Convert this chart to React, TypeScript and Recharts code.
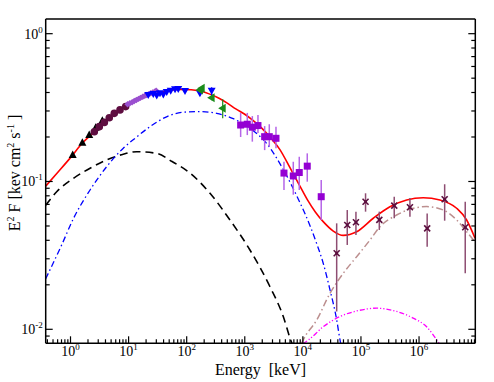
import React from 'react';
import { ComposedChart, Line, Scatter, XAxis, YAxis, ErrorBar } from 'recharts';

const SERIF = '"Liberation Serif", "DejaVu Serif", serif';
const serifStyle = { fontFamily: SERIF };

// axis ranges (keV, keV cm^-2 s^-1)
const X_DOMAIN = [0.374, 9.3e6];
const Y_DOMAIN = [0.00804, 1.257];
const xDecades = [0.1, 1, 10, 100, 1e3, 1e4, 1e5, 1e6];
const yDecades = [0.001, 0.01, 0.1, 1];

// model curves
const totalModel = [
  { e: 0.374, f: 0.093 }, { e: 0.6, f: 0.115 }, { e: 1.0, f: 0.145 }, { e: 1.6, f: 0.182 },
  { e: 2.57, f: 0.217 }, { e: 4.65, f: 0.27 }, { e: 8.9, f: 0.321 }, { e: 15, f: 0.36 },
  { e: 25, f: 0.39 }, { e: 45, f: 0.41 }, { e: 75, f: 0.42 }, { e: 120, f: 0.418 },
  { e: 170, f: 0.409 }, { e: 250, f: 0.39 }, { e: 360, f: 0.366 }, { e: 500, f: 0.339 },
  { e: 700, f: 0.31 }, { e: 1000, f: 0.285 }, { e: 1400, f: 0.258 }, { e: 2000, f: 0.228 },
  { e: 2800, f: 0.197 }, { e: 4000, f: 0.165 }, { e: 6000, f: 0.124 }, { e: 8900, f: 0.093 },
  { e: 12000, f: 0.075 }, { e: 16500, f: 0.062 }, { e: 22400, f: 0.0535 }, { e: 33400, f: 0.0462 },
  { e: 49500, f: 0.0432 }, { e: 84300, f: 0.0457 }, { e: 163000, f: 0.0564 }, { e: 315000, f: 0.0675 },
  { e: 612000, f: 0.075 }, { e: 1.18e6, f: 0.0777 }, { e: 2.29e6, f: 0.075 }, { e: 4.44e6, f: 0.0659 },
  { e: 6.6e6, f: 0.0549 }, { e: 9.2e6, f: 0.0413 },
];

const diskModel = [
  { e: 0.374, f: 0.069 }, { e: 0.578, f: 0.0853 }, { e: 1.12, f: 0.105 }, { e: 2.17, f: 0.123 },
  { e: 4.2, f: 0.14 }, { e: 8.1, f: 0.153 }, { e: 13.8, f: 0.159 }, { e: 30.5, f: 0.155 },
  { e: 55, f: 0.137 }, { e: 114, f: 0.114 }, { e: 252, f: 0.0832 }, { e: 556, f: 0.0549 },
  { e: 1228, f: 0.0344 }, { e: 2715, f: 0.0194 }, { e: 4600, f: 0.0122 }, { e: 6170, f: 0.00847 },
  { e: 7000, f: 0.0075 },
];

const comptModel = [
  { e: 0.374, f: 0.022 }, { e: 0.7, f: 0.037 }, { e: 1.12, f: 0.056 }, { e: 2.17, f: 0.0876 },
  { e: 4.2, f: 0.126 }, { e: 8.1, f: 0.168 }, { e: 12.9, f: 0.196 }, { e: 23.4, f: 0.235 },
  { e: 45, f: 0.274 }, { e: 93.5, f: 0.295 }, { e: 169, f: 0.297 }, { e: 328, f: 0.289 },
  { e: 634, f: 0.266 }, { e: 1230, f: 0.229 }, { e: 2380, f: 0.181 }, { e: 4630, f: 0.12 },
  { e: 8900, f: 0.072 }, { e: 10800, f: 0.061 }, { e: 17300, f: 0.038 }, { e: 22400, f: 0.028 },
  { e: 29300, f: 0.0185 }, { e: 38200, f: 0.0116 }, { e: 43500, f: 0.0085 }, { e: 48000, f: 0.007 },
];

const jetModel = [
  { e: 9500, f: 0.008 }, { e: 10200, f: 0.0085 }, { e: 17300, f: 0.01155 }, { e: 29300, f: 0.0175 },
  { e: 49500, f: 0.0239 }, { e: 84300, f: 0.031 }, { e: 143000, f: 0.0402 }, { e: 212000, f: 0.0494 },
  { e: 411000, f: 0.0593 }, { e: 795000, f: 0.0659 }, { e: 1.35e6, f: 0.0676 }, { e: 2.61e6, f: 0.0641 },
  { e: 4.44e6, f: 0.0549 }, { e: 6.6e6, f: 0.0457 }, { e: 9.2e6, f: 0.0391 },
];

const pairModel = [
  { e: 10000, f: 0.008 }, { e: 12400, f: 0.00845 }, { e: 22400, f: 0.0104 }, { e: 43500, f: 0.0122 },
  { e: 84300, f: 0.0133 }, { e: 186000, f: 0.0139 }, { e: 411000, f: 0.0132 }, { e: 795000, f: 0.0119 },
  { e: 1.35e6, f: 0.0104 }, { e: 2.14e6, f: 0.0082 }, { e: 2.4e6, f: 0.0077 },
];

// data points
const blackTri = [
  { e: 1.09, f: 0.151 }, { e: 1.6, f: 0.183 }, { e: 2.1, f: 0.206 }, { e: 2.71, f: 0.231 }, { e: 3.53, f: 0.258 },
];

const maroonDots = [
  { e: 2.57, f: 0.217 }, { e: 3.13, f: 0.235 }, { e: 3.82, f: 0.251 }, { e: 4.65, f: 0.27 },
  { e: 5.67, f: 0.289 }, { e: 7.11, f: 0.305 }, { e: 8.9, f: 0.321 },
];

const violetPts = [
  { e: 9.6, f: 0.333 }, { e: 10.5, f: 0.338 }, { e: 11.5, f: 0.344 }, { e: 12.5, f: 0.35 },
  { e: 13.6, f: 0.356 }, { e: 14.8, f: 0.362 }, { e: 16, f: 0.368 }, { e: 17.5, f: 0.374 },
  { e: 19, f: 0.38 }, { e: 20.5, f: 0.385 }, { e: 22, f: 0.39 }, { e: 24, f: 0.395 },
  { e: 26, f: 0.4 }, { e: 28, f: 0.405 }, { e: 29.8, f: 0.412 },
];

const blueTri = [
  { e: 21.8, f: 0.385, lo: 0.38, hi: 0.39 }, { e: 26.6, f: 0.391, lo: 0.386, hi: 0.396 },
  { e: 30.5, f: 0.381, lo: 0.376, hi: 0.386 }, { e: 34.7, f: 0.395, lo: 0.39, hi: 0.4 },
  { e: 39.6, f: 0.387, lo: 0.382, hi: 0.392 }, { e: 45.3, f: 0.403, lo: 0.398, hi: 0.408 },
  { e: 53, f: 0.411, lo: 0.406, hi: 0.416 }, { e: 63, f: 0.42, lo: 0.415, hi: 0.425 },
  { e: 71.6, f: 0.423, lo: 0.418, hi: 0.428 }, { e: 93.5, f: 0.41, lo: 0.404, hi: 0.416 },
  { e: 169, f: 0.395, lo: 0.38, hi: 0.41 }, { e: 269, f: 0.411, lo: 0.356, hi: 0.434 },
];

const greenTri = [
  { e: 169, f: 0.416, lo: 0.405, hi: 0.427 }, { e: 181, f: 0.427, lo: 0.415, hi: 0.44 },
  { e: 269, f: 0.369, lo: 0.355, hi: 0.38 }, { e: 417, f: 0.313, lo: 0.268, hi: 0.36 },
];

const squares = [
  { e: 849, f: 0.241, lo: 0.2, hi: 0.291 }, { e: 1105, f: 0.244, lo: 0.206, hi: 0.291 },
  { e: 1349, f: 0.233, lo: 0.186, hi: 0.277 }, { e: 1687, f: 0.239, lo: 0.213, hi: 0.282 },
  { e: 2198, f: 0.201, lo: 0.163, hi: 0.237 }, { e: 2642, f: 0.201, lo: 0.172, hi: 0.244 },
  { e: 3445, f: 0.196, lo: 0.168, hi: 0.235 }, { e: 4730, f: 0.114, lo: 0.0876, hi: 0.136 },
  { e: 6840, f: 0.109, lo: 0.0814, hi: 0.136 }, { e: 8670, f: 0.115, lo: 0.0876, hi: 0.147 },
  { e: 11900, f: 0.127, lo: 0.0997, hi: 0.155 }, { e: 20700, f: 0.0789, lo: 0.0549, hi: 0.1024 },
];

const crosses = [
  { e: 38200, f: 0.0327, lo: 0.0132, hi: 0.0521 }, { e: 58100, f: 0.0508, lo: 0.0372, hi: 0.0641 },
  { e: 82000, f: 0.053, lo: 0.0435, hi: 0.0625 }, { e: 120000, f: 0.073, lo: 0.0625, hi: 0.0832 },
  { e: 207000, f: 0.055, lo: 0.047, hi: 0.0625 }, { e: 374000, f: 0.0686, lo: 0.0563, hi: 0.0789 },
  { e: 697000, f: 0.0669, lo: 0.0577, hi: 0.0774 }, { e: 1.38e6, f: 0.0482, lo: 0.0362, hi: 0.0607 },
  { e: 2.76e6, f: 0.0758, lo: 0.0543, hi: 0.0958 }, { e: 6.24e6, f: 0.049, lo: 0.0239, hi: 0.073 },
];

const withErr = (rows: { e: number; f: number; lo: number; hi: number }[]) =>
  rows.map((r) => ({ e: r.e, f: r.f, err: [r.f - r.lo, r.hi - r.f] }));

// ticks: decades plus 2..9 minors inside the domain
const inside = (v: number, d: number[]) => v >= d[0] && v <= d[1];
const withMinors = (decades: number[], d: number[]) => {
  const out: number[] = [];
  decades.forEach((p) => {
    for (let m = 1; m <= 9; m++) {
      const v = parseFloat((m * p).toPrecision(6));
      if (inside(v, d)) out.push(v);
    }
  });
  return out;
};
const xTicks = withMinors(xDecades, X_DOMAIN);
const yTicks = withMinors(yDecades, Y_DOMAIN);

const expOf = (v: number) => Math.round(Math.log10(v));
const isMajor = (v: number) => Math.abs(Math.log10(v) - expOf(v)) < 1e-6;

const MAJ = 7;
const MIN = 4;

const Pow = ({ v }: { v: number }) => (
  <>
    10<tspan dy={-6} fontSize={9}>{expOf(v)}</tspan>
  </>
);

const BottomTick = (p: any) => {
  const major = isMajor(p.payload.value);
  return (
    <g>
      <line x1={p.x} y1={p.y} x2={p.x} y2={p.y - (major ? MAJ : MIN)} stroke="#000" strokeWidth={1.2} />
      {major && (
        <text x={p.x} y={p.y + 13} textAnchor="middle" style={serifStyle} fontSize={14} fill="#000">
          <Pow v={p.payload.value} />
        </text>
      )}
    </g>
  );
};

const TopTick = (p: any) => {
  const major = isMajor(p.payload.value);
  return <line x1={p.x} y1={p.y} x2={p.x} y2={p.y + (major ? MAJ : MIN)} stroke="#000" strokeWidth={1.2} />;
};

const LeftTick = (p: any) => {
  const major = isMajor(p.payload.value);
  return (
    <g>
      <line x1={p.x} y1={p.y} x2={p.x + (major ? MAJ : MIN)} y2={p.y} stroke="#000" strokeWidth={1.2} />
      {major && (
        <text x={p.x - 3} y={p.y + 5} textAnchor="end" style={serifStyle} fontSize={14} fill="#000">
          <Pow v={p.payload.value} />
        </text>
      )}
    </g>
  );
};

const RightTick = (p: any) => {
  const major = isMajor(p.payload.value);
  return <line x1={p.x} y1={p.y} x2={p.x - (major ? MAJ : MIN)} y2={p.y} stroke="#000" strokeWidth={1.2} />;
};

const XLabel = () => (
  <text x={260.5} y={375} textAnchor="middle" style={serifStyle} fontSize={16} fill="#000">
    {'Energy\u00a0\u00a0[keV]'}
  </text>
);

const YLabel = () => (
  <text x={20} y={173} transform="rotate(-90 20 173)" textAnchor="middle" style={serifStyle} fontSize={16} fill="#000">
    E<tspan dy={-6} fontSize={10}>2</tspan>
    <tspan dy={6}>{'\u00a0F [kev cm'}</tspan>
    <tspan dy={-6} fontSize={10}>2</tspan>
    <tspan dy={6}>{'\u00a0s'}</tspan>
    <tspan dy={-6} fontSize={10}>-1</tspan>
    <tspan dy={6}>{'\u00a0]'}</tspan>
  </text>
);

// marker shapes
const UpTri = ({ cx, cy }: any) => (
  <polygon points={`${cx},${cy - 4.5} ${cx - 4},${cy + 3} ${cx + 4},${cy + 3}`} fill="#000" />
);
const DownTri = ({ cx, cy }: any) => (
  <polygon points={`${cx},${cy + 4} ${cx - 4},${cy - 3} ${cx + 4},${cy - 3}`} fill="#0000ff" />
);
const LeftTri = ({ cx, cy }: any) => (
  <polygon points={`${cx - 4.5},${cy} ${cx + 3},${cy - 4.5} ${cx + 3},${cy + 4.5}`} fill="#1a8c1a" />
);
const Dot = ({ cx, cy }: any) => <circle cx={cx} cy={cy} r={3.8} fill="#5e0d40" />;
const Diamond = ({ cx, cy }: any) => (
  <polygon points={`${cx},${cy - 3.2} ${cx + 3.2},${cy} ${cx},${cy + 3.2} ${cx - 3.2},${cy}`} fill="#9a4fcf" />
);
const Square = ({ cx, cy }: any) => <rect x={cx - 3.5} y={cy - 3.5} width={7} height={7} fill="#9400d3" />;
const Cross = ({ cx, cy }: any) => (
  <g stroke="#5c0f3f" strokeWidth={1.6}>
    <line x1={cx - 3} y1={cy - 3} x2={cx + 3} y2={cy + 3} />
    <line x1={cx - 3} y1={cy + 3} x2={cx + 3} y2={cy - 3} />
    <circle cx={cx} cy={cy} r={1.4} fill="#5c0f3f" stroke="none" />
  </g>
);

const axisStroke = { stroke: '#000', strokeWidth: 1.5 };

export default function App() {
  return (
    <div style={{ position: 'absolute', left: 0, top: 0, background: '#fff', fontFamily: SERIF }}>
      <ComposedChart width={494} height={382} margin={{ top: 19, right: 18.7, bottom: 0, left: 0 }}>
        <XAxis
          xAxisId="x"
          dataKey="e"
          type="number"
          scale="log"
          domain={X_DOMAIN}
          allowDataOverflow
          ticks={xTicks}
          interval={0}
          height={38.7}
          tickSize={0}
          tickMargin={0}
          tickLine={false}
          axisLine={axisStroke}
          tick={<BottomTick />}
          label={<XLabel />}
        />
        <XAxis
          xAxisId="xt"
          orientation="top"
          mirror
          type="number"
          scale="log"
          domain={X_DOMAIN}
          allowDataOverflow
          ticks={xTicks}
          interval={0}
          tickSize={0}
          tickMargin={0}
          tickLine={false}
          axisLine={axisStroke}
          tick={<TopTick />}
        />
        <YAxis
          yAxisId="y"
          dataKey="f"
          type="number"
          scale="log"
          domain={Y_DOMAIN}
          allowDataOverflow
          ticks={yTicks}
          interval={0}
          width={45.7}
          tickSize={0}
          tickMargin={0}
          tickLine={false}
          axisLine={axisStroke}
          tick={<LeftTick />}
          label={<YLabel />}
        />
        <YAxis
          yAxisId="yr"
          orientation="right"
          mirror
          type="number"
          scale="log"
          domain={Y_DOMAIN}
          allowDataOverflow
          ticks={yTicks}
          interval={0}
          tickSize={0}
          tickMargin={0}
          tickLine={false}
          axisLine={axisStroke}
          tick={<RightTick />}
        />

        <Line xAxisId="x" yAxisId="y" data={diskModel} dataKey="f" type="monotone" stroke="#000" strokeWidth={1.6} strokeDasharray="8 5" dot={false} isAnimationActive={false} />
        <Line xAxisId="x" yAxisId="y" data={comptModel} dataKey="f" type="monotone" stroke="#0000ff" strokeWidth={1.3} strokeDasharray="6 3 1.5 3" dot={false} isAnimationActive={false} />
        <Line xAxisId="x" yAxisId="y" data={jetModel} dataKey="f" type="monotone" stroke="#bc8f8f" strokeWidth={1.5} strokeDasharray="7 3 1.5 3" dot={false} isAnimationActive={false} />
        <Line xAxisId="x" yAxisId="y" data={pairModel} dataKey="f" type="monotone" stroke="#ff00ff" strokeWidth={1.3} strokeDasharray="5 2 1.2 2 1.2 2" dot={false} isAnimationActive={false} />
        <Line xAxisId="x" yAxisId="y" data={totalModel} dataKey="f" type="monotone" stroke="#ff0000" strokeWidth={1.6} dot={false} isAnimationActive={false} />

        <Scatter xAxisId="x" yAxisId="y" data={blackTri} shape={UpTri} isAnimationActive={false} />
        <Scatter xAxisId="x" yAxisId="y" data={maroonDots} shape={Dot} isAnimationActive={false} />
        <Scatter xAxisId="x" yAxisId="y" data={violetPts} shape={Diamond} isAnimationActive={false} />
        <Scatter xAxisId="x" yAxisId="y" data={withErr(blueTri)} shape={DownTri} isAnimationActive={false}>
          <ErrorBar dataKey="err" direction="y" width={0} stroke="#0000ff" strokeWidth={1.2} />
        </Scatter>
        <Scatter xAxisId="x" yAxisId="y" data={withErr(greenTri)} shape={LeftTri} isAnimationActive={false}>
          <ErrorBar dataKey="err" direction="y" width={0} stroke="#1a8c1a" strokeWidth={1.2} />
        </Scatter>
        <Scatter xAxisId="x" yAxisId="y" data={withErr(squares)} shape={Square} isAnimationActive={false}>
          <ErrorBar dataKey="err" direction="y" width={0} stroke="#b565e8" strokeWidth={1.5} />
        </Scatter>
        <Scatter xAxisId="x" yAxisId="y" data={withErr(crosses)} shape={Cross} isAnimationActive={false}>
          <ErrorBar dataKey="err" direction="y" width={0} stroke="#8e4d72" strokeWidth={1.5} />
        </Scatter>
      </ComposedChart>
    </div>
  );
}
